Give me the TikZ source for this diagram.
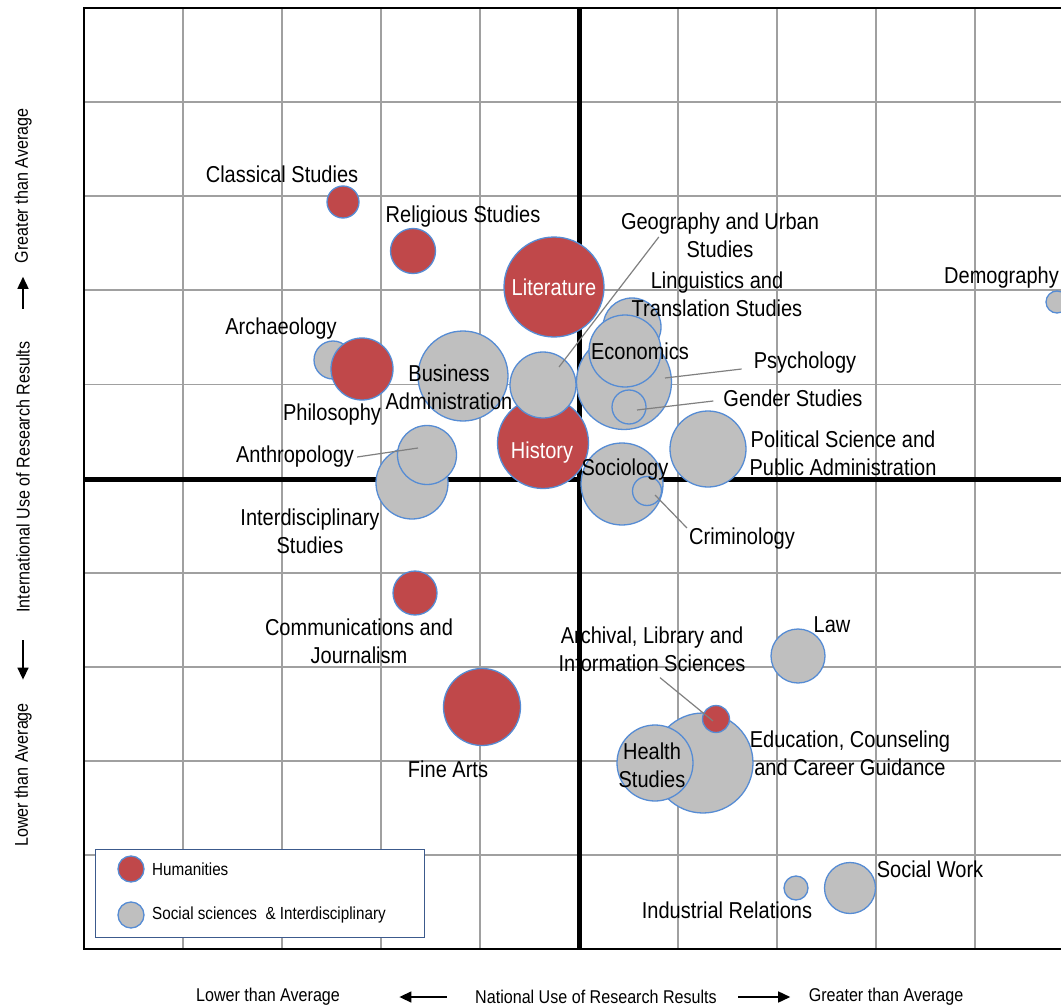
\documentclass[tikz,border=0pt]{standalone}
\usepackage{fontspec}
\setmainfont{Liberation Sans}[FakeStretch=0.87]
\usetikzlibrary{calc,arrows.meta}

\definecolor{humred}{RGB}{192,72,74}
\definecolor{socgrey}{RGB}{191,191,191}
\definecolor{bubedge}{RGB}{86,140,212}
\definecolor{gridgrey}{RGB}{160,160,160}
\definecolor{leadgrey}{RGB}{128,128,128}
\definecolor{legedge}{RGB}{60,90,140}

\begin{document}
\begin{tikzpicture}[x=1pt,y=-1pt,>={Triangle[length=12pt,width=11pt]},
    every node/.style={font=\fontsize{23}{28}\selectfont},
    gridline/.style={draw=gridgrey,line width=1.8pt},
    axisline/.style={line width=5pt},
    frame/.style={line width=2pt},
    bubble/.style={circle,draw=bubedge,line width=1.3pt,inner sep=0pt},
    hum/.style={bubble,fill=humred,text=white},
    soc/.style={bubble,fill=socgrey},
    lab/.style={align=center,inner sep=3pt},
    lead/.style={draw=leadgrey,line width=1.2pt},
    axtext/.style={font=\fontsize{18.5}{22}\selectfont},
    axarrow/.style={->,line width=1.5pt},
    legbox/.style={draw=legedge,line width=1.3pt,fill=white},
    legtext/.style={font=\fontsize{17.5}{21}\selectfont,anchor=west,inner sep=0pt}]

    \useasboundingbox (0,0) rectangle (1061,1006);
    \fill[white] (0,0) rectangle (1061,1006);
    \clip (0,0) rectangle (1061,1006);

%   grid and quadrants
    \foreach \i in {1,...,10}
        \draw[gridline] ({84+99*\i},8) -- ({84+99*\i},949);
    \foreach \i in {1,...,9}
        \draw[gridline] (84,{8+94.1*\i}) -- (1074,{8+94.1*\i});
    \draw[axisline] (579,8) -- (579,949);
    \draw[axisline] (84,479) -- (1074,479);
    \draw[frame] (1074,8) -- (84,8) -- (84,949) -- (1074,949);

%   bubbles
    \node[soc,minimum size=38pt]  (archae) at (333,360) {};
    \node[hum,minimum size=62pt]  (phil)   at (362,369) {};
    \node[hum,minimum size=32pt]  (clas)   at (343,202) {};
    \node[hum,minimum size=45pt]  (relig)  at (413,251) {};
    \node[hum,minimum size=100pt] (lit)    at (554,287) {Literature};
    \node[soc,minimum size=90pt]  (bus)    at (463,376) {};
    \node[hum,minimum size=91pt]  (hist)   at (543,443) {};
    \node[soc,minimum size=66pt]  (geo)    at (543,385) {};
    \node[soc,minimum size=72pt]  (inter)  at (412,483) {};
    \node[soc,minimum size=59pt]  (anth)   at (427,455) {};
    \node[soc,minimum size=58pt]  (ling)   at (632,327) {};
    \node[soc,minimum size=95pt]  (psych)  at (624,382) {};
    \node[soc,minimum size=72pt]  (econ)   at (625,351) {};
    \node[soc,minimum size=34pt]  (gend)   at (629,407) {};
    \node[soc,minimum size=76pt]  (pol)    at (708,449) {};
    \node[soc,minimum size=82pt]  (socio)  at (622,484) {};
    \node[soc,minimum size=29pt]  (crim)   at (647,491) {};
    \node[soc,minimum size=22pt]  (demo)   at (1057,302) {};
    \node[hum,minimum size=44pt]  (comm)   at (415,593) {};
    \node[hum,minimum size=77pt]  (fine)   at (482,707) {};
    \node[soc,minimum size=54pt]  (law)    at (798,656) {};
    \node[soc,minimum size=100pt] (edu)    at (703,763) {};
    \node[soc,minimum size=76pt]  (health) at (655,763) {};
    \node[hum,minimum size=27pt]  (archlib) at (716,719) {};
    \node[soc,minimum size=24pt]  (indus)  at (796,888) {};
    \node[soc,minimum size=51pt]  (swork)  at (850,888) {};

%   labels
    \node[lab] (clas-l)   at (282,174) {Classical Studies};
    \node[lab] (relig-l)  at (463,217) {Religious Studies};
    \node[lab] (geo-l)    at (720,235) {Geography and Urban\\Studies};
    \node[lab] (ling-l)   at (717,294) {Linguistics and\\Translation Studies};
    \node[lab,anchor=east] (demo-l) at (1062,278) {Demography};
    \node[lab] (archae-l) at (281,329) {Archaeology};
    \node[lab] (econ-l)   at (640,351) {Economics};
    \node[lab] (bus-l)    at (449,387) {Business\\Administration};
    \node[lab] (psych-l)  at (805,363) {Psychology};
    \node[lab] (phil-l)   at (332,415) {Philosophy};
    \node[lab] (gend-l)   at (793,398) {Gender Studies};
    \node[lab] (pol-l)    at (843,453) {Political Science and\\Public Administration};
    \node[lab] (anth-l)   at (295,457) {Anthropology};
    \node[lab,text=white] (hist-l) at (542,453) {History};
    \node[lab] (socio-l)  at (625,470) {Sociology};
    \node[lab] (inter-l)  at (310,531) {Interdisciplinary\\Studies};
    \node[lab] (crim-l)   at (742,539) {Criminology};
    \node[lab] (comm-l)   at (359,641) {Communications and\\Journalism};
    \node[lab] (law-l)    at (832,625) {Law};
    \node[lab] (archlib-l) at (652,649) {Archival, Library and\\Information Sciences};
    \node[lab] (edu-l)    at (850,753) {Education, Counseling\\and Career Guidance};
    \node[lab] (health-l) at (652,765) {Health\\Studies};
    \node[lab] (fine-l)   at (448,769) {Fine Arts};
    \node[lab] (swork-l)  at (930,869) {Social Work};
    \node[lab] (indus-l)  at (727,910) {Industrial Relations};

%   leaders
    \draw[lead] ($(geo-l.west)+(41,2)$) -- ($(geo)+(16,-18)$);
    \draw[lead] ($(psych-l.west)+(-9,6)$) -- ($(psych)+(41,-4)$);
    \draw[lead] ($(gend-l.west)+(-7,3)$) -- ($(gend)+(8,3)$);
    \draw[lead] (anth-l.east) -- ($(anth)+(-9,-7)$);
    \draw[lead] ($(crim-l.west)+(1,-11)$) -- ($(crim)+(8,4)$);
    \draw[lead] ($(archlib-l.south)+(8,3)$) -- ($(archlib)+(-3,2)$);

%   legend
    \node[legbox,anchor=north west,minimum width=329pt,minimum height=88pt] (leg) at (95,849) {};
    \node[hum,minimum size=26pt] (leg-hum) at (131,869) {};
    \node[soc,minimum size=26pt] (leg-soc) at (131,915) {};
    \node[legtext] (leg-hum-t) at (152,869) {Humanities};
    \node[legtext] (leg-soc-t) at (152,915) {Social sciences \ \& Interdisciplinary};

%   axis titles
    \node[axtext,rotate=90] (gty)  at (23,186) {Greater than Average};
    \node[axtext,rotate=90] (intl) at (23,477) {International Use of Research Results};
    \node[axtext,rotate=90] (lty)  at (23,775) {Lower than Average};
    \draw[axarrow,shorten <=29pt,shorten >=10pt] (intl.east) -- (gty.west);
    \draw[axarrow,shorten <=24pt,shorten >=20pt] (intl.west) -- (lty.east);

    \node[axtext] (ltx)  at (268,997) {Lower than Average};
    \node[axtext] (natl) at (596,997) {National Use of Research Results};
    \node[axtext] (gtx)  at (886,997) {Greater than Average};
    \draw[axarrow,shorten <=25pt,shorten >=56pt] (natl.west) -- (ltx.east);
    \draw[axarrow,shorten <=18pt,shorten >=15pt] (natl.east) -- (gtx.west);

\end{tikzpicture}
\end{document}
